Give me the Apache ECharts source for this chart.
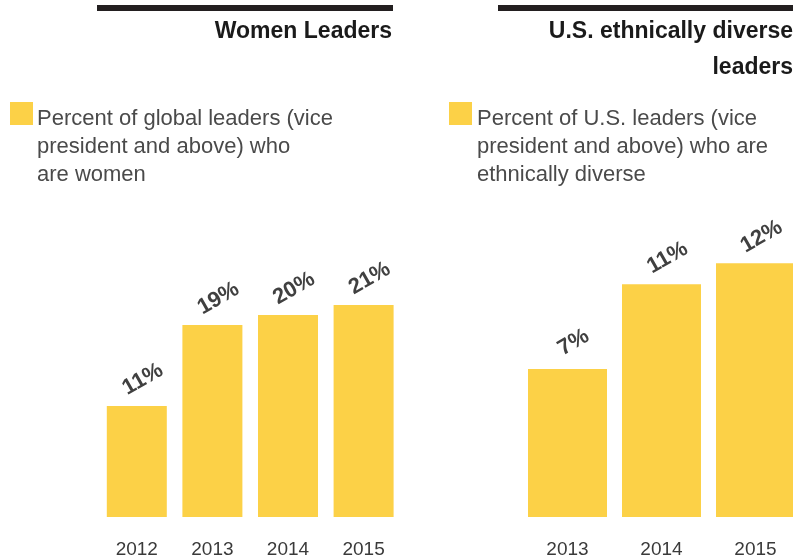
<!DOCTYPE html>
<html><head><meta charset="utf-8">
<script src="https://cdn.jsdelivr.net/npm/echarts@6/dist/echarts.min.js"></script>
<style>html,body{margin:0;padding:0;background:#fff}#c{width:793px;height:558px}</style>
</head><body><div id="c"></div>
<script>
const womenYears = ['2012','2013','2014','2015'];
const womenValues = [11, 19, 20, 21];
const diverseYears = ['2013','2014','2015'];
const diverseValues = [7, 11, 12];
const titleLeft = 'Women Leaders';
const titleRight = ['U.S. ethnically diverse', 'leaders'];
const legendLeft = ['Percent of global leaders (vice', 'president and above) who', 'are women'];
const legendRight = ['Percent of U.S. leaders (vice', 'president and above) who are', 'ethnically diverse'];

const YELLOW = '#fcd147';
const FONT = '"Liberation Sans", Arial, sans-serif';
const chart = echarts.init(document.getElementById('c'));

const label = {
  show: true, position: 'top', distance: 23, offset: [7, 0],
  rotate: 30, align: 'center', verticalAlign: 'middle',
  formatter: '{c}%', fontFamily: FONT, fontWeight: 'bold', fontSize: 22, color: '#404040'
};
const xAxisBase = {
  type: 'category', axisLine: {show: false}, axisTick: {show: false},
  axisLabel: {fontFamily: FONT, fontSize: 19, color: '#3a3a3a', margin: 23}
};

function legendText(lines, x) {
  return lines.map((t, i) => ({
    type: 'text', x: x, y: 119 + i * 28,
    style: {text: t, font: '22px ' + FONT, fill: '#4a4a4a', verticalAlign: 'middle'}
  }));
}

chart.setOption({
  animation: false,
  grid: [
    {left: 99, width: 302.4, top: 264.5, height: 252.5, outerBoundsMode: 'none', containLabel: false},
    {left: 520.5, width: 282, top: 252.6, height: 264.4, outerBoundsMode: 'none', containLabel: false}
  ],
  xAxis: [
    Object.assign({gridIndex: 0, data: womenYears}, xAxisBase),
    Object.assign({gridIndex: 1, data: diverseYears}, xAxisBase)
  ],
  yAxis: [
    {gridIndex: 0, type: 'value', min: 0, max: 25, show: false},
    {gridIndex: 1, type: 'value', min: 0, max: 12.5, show: false}
  ],
  series: [
    {type: 'bar', xAxisIndex: 0, yAxisIndex: 0, data: womenValues, barWidth: 60,
     itemStyle: {color: YELLOW}, label: label},
    {type: 'bar', xAxisIndex: 1, yAxisIndex: 1, data: diverseValues, barWidth: 79,
     itemStyle: {color: YELLOW}, label: label}
  ],
  graphic: [
    {type: 'rect', shape: {x: 97, y: 5, width: 296, height: 6}, style: {fill: '#231f20'}},
    {type: 'rect', shape: {x: 498, y: 5, width: 295, height: 6}, style: {fill: '#231f20'}},
    {type: 'text', x: 392, y: 32, style: {text: titleLeft, font: 'bold 23px ' + FONT, fill: '#1a1a1a', align: 'right', verticalAlign: 'middle'}},
    {type: 'text', x: 793, y: 32, style: {text: titleRight[0], font: 'bold 23px ' + FONT, fill: '#1a1a1a', align: 'right', verticalAlign: 'middle'}},
    {type: 'text', x: 793, y: 68, style: {text: titleRight[1], font: 'bold 23px ' + FONT, fill: '#1a1a1a', align: 'right', verticalAlign: 'middle'}},
    {type: 'rect', shape: {x: 10, y: 102, width: 23, height: 23}, style: {fill: YELLOW}},
    {type: 'rect', shape: {x: 449, y: 102, width: 23, height: 23}, style: {fill: YELLOW}}
  ].concat(legendText(legendLeft, 37), legendText(legendRight, 477))
});
</script></body></html>
